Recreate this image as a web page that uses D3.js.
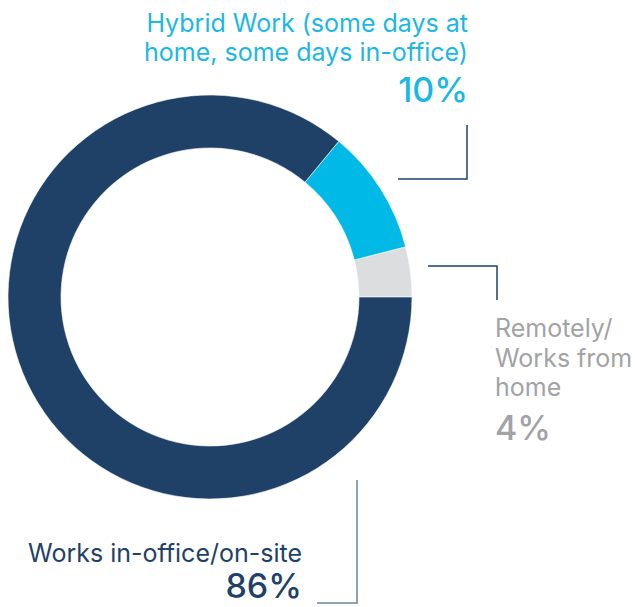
<!DOCTYPE html>
<html><head><meta charset="utf-8">
<script src="https://cdn.jsdelivr.net/npm/d3@7"></script>
<style>html,body{margin:0;padding:0;background:#fff;}svg{display:block;}</style>
</head><body>
<script>
const categories = ["Remotely/ Works from home", "Hybrid Work (some days at home, some days in-office)", "Works in-office/on-site"];
const values = [4, 10, 86];
const colors = ["#dcdddf", "#00b9e7", "#1f4168"];
const valueLabels = ["4%", "10%", "86%"];

const W = 635, H = 607;
const cx = 210, cy = 297, rOuter = 202, rInner = 149;
const font = "Inter, 'Noto Sans', sans-serif";

const svg = d3.select("body").append("svg").attr("width", W).attr("height", H);
const g = svg.append("g").attr("transform", `translate(${cx},${cy})`);

// start at 3 o'clock, segments proceed counter-clockwise
const pie = d3.pie().sort(null).value(d => d)
  .startAngle(Math.PI / 2).endAngle(Math.PI / 2 - 2 * Math.PI);
const arc = d3.arc().innerRadius(rInner).outerRadius(rOuter);
g.selectAll("path").data(pie(values)).join("path")
  .attr("d", arc).attr("fill", (d, i) => colors[i])
  .attr("stroke", "#fff").attr("stroke-width", 0.6);

const lineColor = "#1f4168";
const lines = [
  { pts: [[428, 266], [497, 266], [497, 300]], c: lineColor },
  { pts: [[467, 125], [467, 179], [398, 179]], c: lineColor },
  { pts: [[357, 480], [357, 603], [317, 603]], c: "#6a82a0" }
];
lines.forEach(l => {
  svg.append("path").attr("d", d3.line()(l.pts)).attr("fill", "none")
    .attr("stroke", l.c).attr("stroke-width", 1.5);
});

function label(lines, x, ys, anchor, color, size, pct, pctY, pctSize) {
  lines.forEach((t, i) => {
    svg.append("text").attr("x", x).attr("y", ys[i]).attr("text-anchor", anchor)
      .attr("fill", color).attr("font-family", font).attr("font-size", size)
      .attr("font-weight", 400).text(t);
  });
  svg.append("text").attr("x", x).attr("y", pctY).attr("text-anchor", anchor)
    .attr("fill", color).attr("font-family", font).attr("font-size", pctSize)
    .attr("font-weight", 500).text(pct);
}

label(["Remotely/", "Works from", "home"], 495, [337, 367, 396], "start", "#a2a3a6", 25, valueLabels[0], 440, 34);
label(["Hybrid Work (some days at", "home, some days in-office)"], 468, [32, 61], "end", "#1bb8e5", 25, valueLabels[1], 102, 34);
label(["Works in-office/on-site"], 302, [562], "end", "#1f4168", 25, valueLabels[2], 598, 34);
</script>
</body></html>
